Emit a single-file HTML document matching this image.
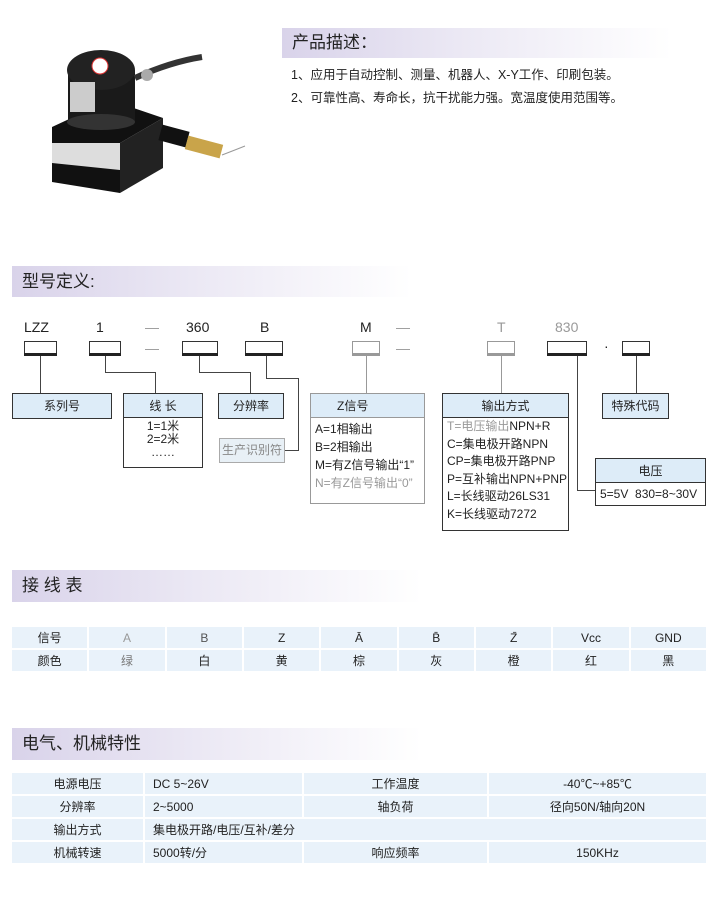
<!DOCTYPE html>
<html><head><meta charset="utf-8"><style>
*{margin:0;padding:0;box-sizing:border-box}
body{width:719px;height:902px;background:#fff;position:relative;overflow:hidden;font-family:"Liberation Sans","Noto Sans CJK SC",sans-serif;color:#222}
.a{position:absolute}
.band{position:absolute;height:32px;background:linear-gradient(90deg,#d9d3ea 0%,#ebe8f4 45%,#fff 100%);font-size:17px;padding-left:10px;line-height:32px;color:#222}
.t{position:absolute;font-size:12px;white-space:nowrap}
.bx{position:absolute;border:1px solid #333;background:#fff}
.hd{background:#ddecf8;border-bottom:1px solid #333;text-align:center;font-size:12px;height:24px;line-height:24px}
.code{position:absolute;height:12px;border:1px solid #333;border-bottom:none}
.code::after{content:"";position:absolute;left:-1px;right:-1px;bottom:-3px;height:3px;background:#222}
.g{border-color:#999}.g::after{background:#999}
.ln{position:absolute;background:#444}
table{position:absolute;border-collapse:separate;border-spacing:2px;font-size:12px;table-layout:fixed}
td{background:#e9f2fa;text-align:center;height:21px}
.bd{font-size:12px;line-height:18px;padding-left:4px}
</style></head><body>

<svg class="a" style="left:30px;top:20px" width="220" height="190" viewBox="30 20 220 190">
<polygon points="52,127 120,143 163,118 110,100" fill="#111"/>
<polygon points="52,127 120,143 120,193 52,180" fill="#ddd"/>
<rect x="52" y="127" width="68" height="16" fill="#111"/>
<polygon points="52,163 120,170 120,193 52,182" fill="#111"/>
<polygon points="120,143 163,118 163,168 120,193" fill="#222"/>
<rect x="68" y="70" width="67" height="52" fill="#1a1a1a"/>
<ellipse cx="101" cy="122" rx="34" ry="8" fill="#333"/>
<ellipse cx="101" cy="70" rx="34" ry="20" fill="#222"/>
<rect x="70" y="82" width="25" height="30" fill="#ccc"/>
<circle cx="100" cy="66" r="8" fill="#fff" stroke="#d33"/>
<path d="M135 78 Q170 62 202 57" stroke="#333" stroke-width="6" fill="none"/>
<circle cx="147" cy="75" r="6" fill="#aaa"/>
<rect x="160" y="128" width="28" height="16" fill="#111" transform="rotate(15 174 136)"/>
<rect x="186" y="140" width="36" height="14" fill="#c9a44a" transform="rotate(15 204 147)"/>
<path d="M222 155 Q235 150 245 146" stroke="#999" fill="none"/>
</svg>

<div class="band" style="left:282px;top:28px;width:390px;height:30px;line-height:30px">产品描述：</div>
<div class="t" style="left:291px;top:64px;font-size:12.5px">1、应用于自动控制、测量、机器人、X-Y工作、印刷包装。</div>
<div class="t" style="left:291px;top:87px;font-size:12.5px">2、可靠性高、寿命长，抗干扰能力强。宽温度使用范围等。</div>

<div class="band" style="left:12px;top:266px;width:400px;height:31px">型号定义:</div>

<div class="t" style="left:24px;top:319px;font-size:14px">LZZ</div>
<div class="t" style="left:96px;top:319px;font-size:14px">1</div>
<div class="t" style="left:145px;top:319px;font-size:14px;color:#999">—</div>
<div class="t" style="left:186px;top:319px;font-size:14px">360</div>
<div class="t" style="left:260px;top:319px;font-size:14px">B</div>
<div class="t" style="left:360px;top:319px;font-size:14px">M</div>
<div class="t" style="left:396px;top:319px;font-size:14px;color:#999">—</div>
<div class="t" style="left:497px;top:319px;font-size:14px;color:#999">T</div>
<div class="t" style="left:555px;top:319px;font-size:14px;color:#999">830</div>
<div class="t" style="left:145px;top:340px;font-size:14px;color:#999">—</div>
<div class="t" style="left:396px;top:340px;font-size:14px;color:#999">—</div>
<div class="t" style="left:604px;top:338px;font-size:14px">·</div>

<div class="code" style="left:24px;top:341px;width:33px"></div>
<div class="code" style="left:89px;top:341px;width:32px"></div>
<div class="code" style="left:182px;top:341px;width:36px"></div>
<div class="code" style="left:245px;top:341px;width:38px"></div>
<div class="code g" style="left:352px;top:341px;width:28px"></div>
<div class="code g" style="left:487px;top:341px;width:28px"></div>
<div class="code" style="left:547px;top:341px;width:40px"></div>
<div class="code" style="left:622px;top:341px;width:28px"></div>

<div class="ln" style="left:40px;top:356px;width:1px;height:37px"></div>
<div class="ln" style="left:105px;top:356px;width:1px;height:17px"></div>
<div class="ln" style="left:105px;top:372px;width:50px;height:1px"></div>
<div class="ln" style="left:155px;top:372px;width:1px;height:21px"></div>
<div class="ln" style="left:199px;top:356px;width:1px;height:17px"></div>
<div class="ln" style="left:199px;top:372px;width:51px;height:1px"></div>
<div class="ln" style="left:250px;top:372px;width:1px;height:21px"></div>
<div class="ln" style="left:266px;top:356px;width:1px;height:23px"></div>
<div class="ln" style="left:266px;top:378px;width:32px;height:1px"></div>
<div class="ln" style="left:298px;top:378px;width:1px;height:73px"></div>
<div class="ln" style="left:285px;top:450px;width:14px;height:1px"></div>
<div class="ln" style="left:366px;top:356px;width:1px;height:37px;background:#999"></div>
<div class="ln" style="left:501px;top:356px;width:1px;height:37px;background:#999"></div>
<div class="ln" style="left:577px;top:356px;width:1px;height:135px"></div>
<div class="ln" style="left:577px;top:490px;width:18px;height:1px"></div>
<div class="ln" style="left:636px;top:356px;width:1px;height:37px"></div>

<div class="bx" style="left:12px;top:393px;width:100px;height:26px"><div class="hd" style="border:none">系列号</div></div>
<div class="bx" style="left:123px;top:393px;width:80px;height:75px"><div class="hd">线 长</div>
<div class="bd" style="text-align:center;padding:2px 0 0;line-height:13px">1=1米<br>2=2米<br>……</div></div>
<div class="bx" style="left:218px;top:393px;width:66px;height:26px"><div class="hd" style="border:none">分辨率</div></div>
<div class="bx" style="left:219px;top:438px;width:66px;height:25px;border-color:#aaa;background:#e8f0f6"><div style="font-size:12px;text-align:center;line-height:23px;color:#888">生产识别符</div></div>
<div class="bx" style="left:310px;top:393px;width:115px;height:111px;border-color:#999"><div class="hd" style="border-color:#999;text-align:left;padding-left:26px">Z信号</div>
<div class="bd" style="padding-top:2px">A=1相输出<br>B=2相输出<br>M=有Z信号输出“1”<br><span style="color:#999">N=有Z信号输出“0”</span></div></div>
<div class="bx" style="left:442px;top:393px;width:127px;height:138px"><div class="hd">输出方式</div>
<div class="bd" style="padding-top:0;line-height:17.6px"><span style="color:#999">T=电压输出</span>NPN+R<br>C=集电极开路NPN<br>CP=集电极开路PNP<br>P=互补输出NPN+PNP<br>L=长线驱动26LS31<br>K=长线驱动7272</div></div>
<div class="bx" style="left:595px;top:458px;width:111px;height:48px"><div class="hd">电压</div>
<div class="bd" style="line-height:22px">5=5V&nbsp; 830=8~30V</div></div>
<div class="bx" style="left:602px;top:393px;width:67px;height:26px"><div class="hd" style="border:none">特殊代码</div></div>

<div class="band" style="left:12px;top:570px;width:410px">接 线 表</div>
<table style="left:10px;top:625px;width:698px">
<tr><td>信号</td><td style="color:#999">A</td><td style="color:#555">B</td><td>Z</td><td>Ā</td><td>B̄</td><td>Z̄</td><td>Vcc</td><td>GND</td></tr>
<tr><td>颜色</td><td style="color:#777">绿</td><td>白</td><td>黄</td><td>棕</td><td>灰</td><td>橙</td><td>红</td><td>黑</td></tr>
</table>

<div class="band" style="left:12px;top:728px;width:410px">电气、机械特性</div>
<table style="left:10px;top:771px;width:698px">
<colgroup><col style="width:131px"><col style="width:157px"><col style="width:183px"><col></colgroup>
<tr><td>电源电压</td><td style="text-align:left;padding-left:8px">DC 5~26V</td><td>工作温度</td><td>-40℃~+85℃</td></tr>
<tr><td>分辨率</td><td style="text-align:left;padding-left:8px">2~5000</td><td>轴负荷</td><td>径向50N/轴向20N</td></tr>
<tr><td>输出方式</td><td colspan="3" style="text-align:left;padding-left:8px">集电极开路/电压/互补/差分</td></tr>
<tr><td>机械转速</td><td style="text-align:left;padding-left:8px">5000转/分</td><td>响应频率</td><td>150KHz</td></tr>
</table>
</body></html>
